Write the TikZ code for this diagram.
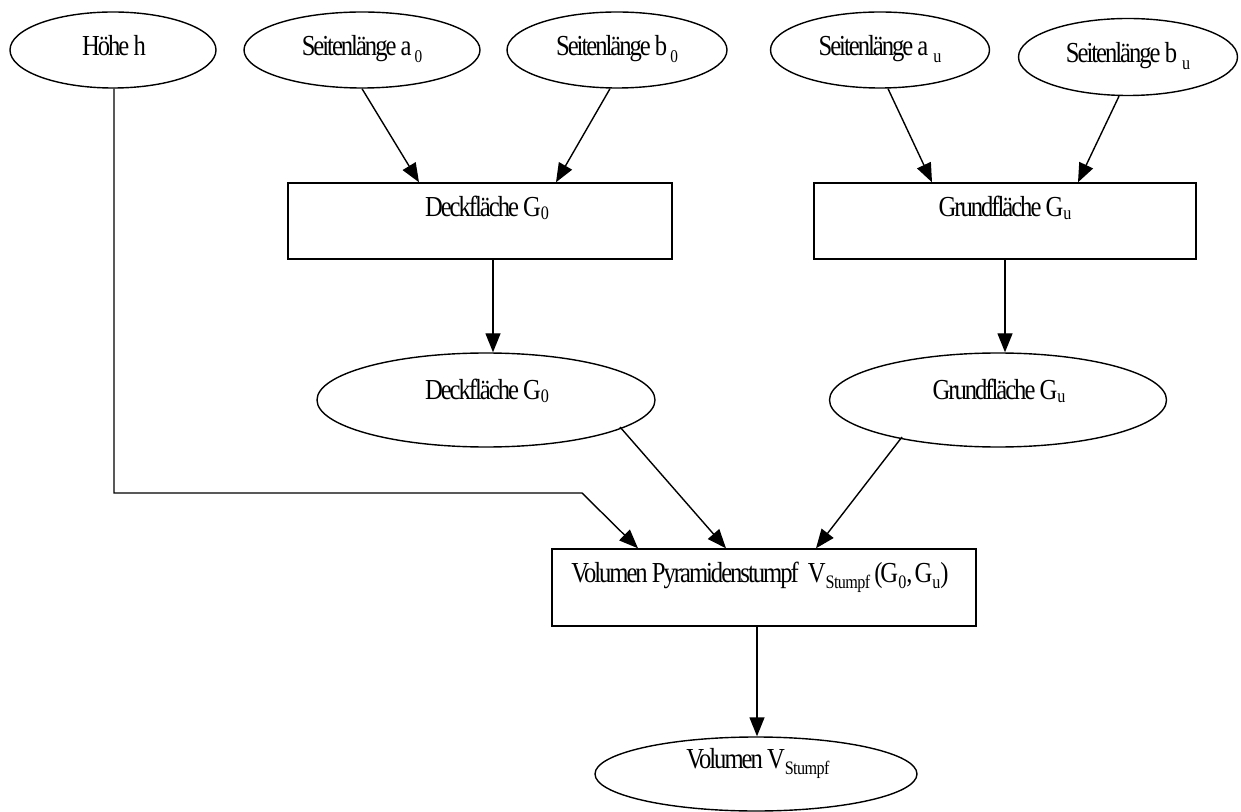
\documentclass[tikz,border=0pt]{standalone}
\usepackage{fontspec}
\setmainfont{Liberation Serif}[FakeStretch=0.85,LetterSpace=-7]
\newfontfamily\subf{Liberation Serif}[FakeStretch=0.85,LetterSpace=-3]
\usetikzlibrary{arrows.meta,shapes.geometric,calc}
% subscript: size, lowering, text
\newcommand\sbx[3]{\raisebox{-#2}{\subf\fontsize{#1}{#1}\selectfont #3}}
\begin{document}
\begin{tikzpicture}[x=0.5pt,y=-0.5pt, line width=0.7pt,
  ell/.style={draw, ellipse, inner sep=0pt},
  rbox/.style={draw, rectangle, inner sep=0pt},
  lbl/.style={inner sep=0pt, anchor=base, font=\fontsize{14.5}{16}\selectfont},
  arr/.style={-{Triangle[length=9.5pt,width=7.5pt]}}]
\useasboundingbox (0,0) rectangle (1241,812);

% top ellipses
\node[ell, minimum width=103pt, minimum height=38pt] (hoehe) at (113,50) {};
\node[lbl] (t-hoehe) at (114,56) {Höhe h};
\node[ell, minimum width=118pt, minimum height=38pt] (a0) at (362,50) {};
\node[lbl] (t-a0) at (362,56) {Seitenlänge a\kern1.5pt\sbx{9pt}{3.5pt}{0}};
\node[ell, minimum width=110pt, minimum height=38pt] (b0) at (617,50) {};
\node[lbl] (t-b0) at (617,56) {Seitenlänge b\kern1.5pt\sbx{9pt}{3.5pt}{0}};
\node[ell, minimum width=109.5pt, minimum height=38pt] (au) at (880,50) {};
\node[lbl] (t-au) at (880,56) {Seitenlänge a\kern2.5pt\sbx{9.5pt}{3.3pt}{u}};
\node[ell, minimum width=109.5pt, minimum height=38.5pt] (bu) at (1128,57) {};
\node[lbl] (t-bu) at (1128,63) {Seitenlänge b\kern2.5pt\sbx{9.5pt}{3.3pt}{u}};

% boxes
\node[rbox, minimum width=192pt, minimum height=38pt] (deckbox) at (480,221) {};
\node[lbl] (t-deckbox) at (487,217) {Deckfläche G\sbx{9.5pt}{1.5pt}{0}};
\node[rbox, minimum width=191pt, minimum height=38pt] (grundbox) at (1005,221) {};
\node[lbl] (t-grundbox) at (1005,217) {Grundfläche G\sbx{9.5pt}{1.5pt}{u}};

% middle ellipses
\node[ell, minimum width=169pt, minimum height=47pt] (deckell) at (486,400) {};
\node[lbl] (t-deckell) at (487,400) {Deckfläche G\sbx{9.5pt}{1.5pt}{0}};
\node[ell, minimum width=168.5pt, minimum height=47pt] (grundell) at (998,400) {};
\node[lbl] (t-grundell) at (999,400) {Grundfläche G\sbx{9.5pt}{1.5pt}{u}};

% volume box and ellipse
\node[rbox, minimum width=212pt, minimum height=38.5pt] (volbox) at (764,587.5) {};
\node[lbl] (t-volbox) at (760,582) {Volumen Pyramidenstumpf\hspace{4.5pt}V\sbx{9.5pt}{3pt}{Stumpf}\hspace{2pt}(G\sbx{9.5pt}{3pt}{0},\hspace{1pt}G\sbx{9.5pt}{3pt}{u})};
\node[ell, minimum width=161pt, minimum height=37pt] (volell) at (756,774) {};
\node[lbl] (t-volell) at (758,768) {Volumen V\sbx{9.5pt}{3pt}{Stumpf}};

% connectors
\draw[arr] (a0.south) -- ($(deckbox.north)+(-61,0)$);
\draw[arr] ($(b0.south)+(-7,0)$) -- ($(deckbox.north)+(76,0)$);
\draw[arr] ($(au.south)+(8,0)$) -- ($(grundbox.north)+(-73,0)$);
\draw[arr] ($(bu.south)+(-9,0)$) -- ($(grundbox.north)+(73,0)$);
\draw[arr] ($(deckbox.south)+(13,0)$) -- ($(deckell.north)+(7,0)$);
\draw[arr] (grundbox.south) -- ($(grundell.north)+(7,0)$);
\coordinate (knick) at (582,493);
\draw[arr] ($(hoehe.south)+(1,0)$) |- (knick) -- ($(volbox.north)+(-126,0)$);
\draw[arr] ($(deckell.center)+(134,27)$) -- ($(volbox.north)+(-38,0)$);
\draw[arr] ($(grundell.center)+(-96,37)$) -- ($(volbox.north)+(52,0)$);
\draw[arr] ($(volbox.south)+(-7,0)$) -- ($(volell.north)+(1,0)$);
\end{tikzpicture}
\end{document}
